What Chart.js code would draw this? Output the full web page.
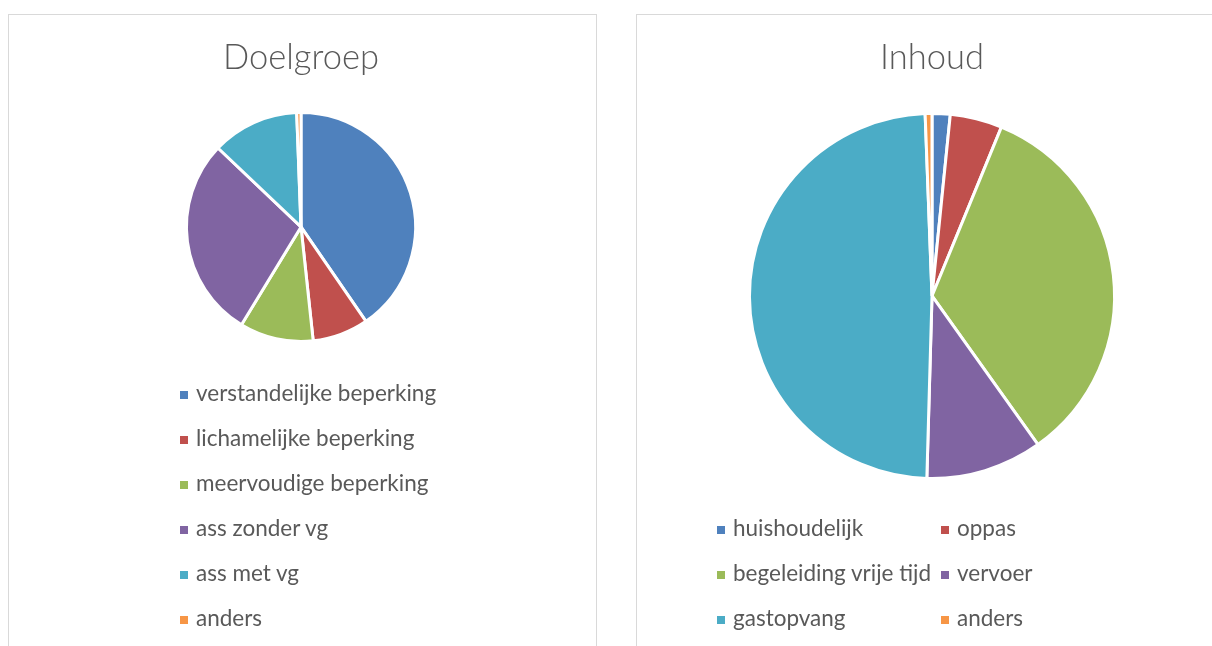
<!DOCTYPE html>
<html>
<head>
<meta charset="utf-8">
<script src="https://cdn.jsdelivr.net/npm/chart.js@4"></script>
<style>
    body { margin: 0; width: 1212px; height: 646px; overflow: hidden; background: #fff; position: relative; }
    .panel { position: absolute; top: 14px; width: 589px; height: 660px; border: 1px solid #d9d9d9; box-sizing: border-box; }
    canvas { position: absolute; top: 14px; }
    .legend { position: absolute; font-family: Lato, sans-serif; font-size: 22.5px; color: #595959; }
    .item { position: absolute; white-space: nowrap; line-height: 24px; }
    .item span { display: inline-block; width: 8px; height: 8px; margin-right: 8px; vertical-align: 2px; }
</style>
</head>
<body>
<div class="panel" style="left:8px"></div>
<div class="panel" style="left:636px"></div>
<canvas id="doelgroep" width="588" height="632" style="left:8px"></canvas>
<canvas id="inhoud" width="588" height="632" style="left:636px"></canvas>
<div class="legend" id="legendLeft"></div>
<div class="legend" id="legendRight"></div>
<script>
// kleuren (Office palet)
const colors = ['#4F81BD', '#C0504D', '#9BBB59', '#8064A2', '#4BACC6', '#F79646'];

// Doelgroep
const doelgroepLabels = ['verstandelijke beperking', 'lichamelijke beperking', 'meervoudige beperking', 'ass zonder vg', 'ass met vg', 'anders'];
const doelgroepValues = [40.4, 7.9, 10.4, 28.4, 12.3, 0.6];

// Inhoud
const inhoudLabels = ['huishoudelijk', 'oppas', 'begeleiding vrije tijd', 'vervoer', 'gastopvang', 'anders'];
const inhoudValues = [1.6, 4.6, 33.9, 10.3, 48.9, 0.6];

function createPieChart(id, title, labels, data, padding, titlePadding) {
    new Chart(document.getElementById(id).getContext('2d'), {
        type: 'pie',
        data: {
            labels: labels,
            datasets: [{
                data: data,
                backgroundColor: colors,
                borderColor: '#ffffff',
                borderWidth: 3
            }]
        },
        options: {
            responsive: false,
            animation: false,
            layout: { padding: padding },
            plugins: {
                legend: { display: false },
                tooltip: { enabled: false },
                title: {
                    display: true,
                    text: title,
                    color: '#595959',
                    font: { family: 'Lato', size: 34.5, weight: 300, lineHeight: 1.2 },
                    padding: titlePadding
                }
            }
        }
    });
}

createPieChart('doelgroep', 'Doelgroep', doelgroepLabels, doelgroepValues,
    { top: 0, left: 0, right: 2, bottom: 303 }, { top: 23, bottom: 32.5 });
createPieChart('inhoud', 'Inhoud', inhoudLabels, inhoudValues,
    { top: 0, left: 4, right: 0, bottom: 166 }, { top: 23, bottom: 33.5 });

// legenda's
function buildLegend(el, labels, positions) {
    labels.forEach((label, i) => {
        const item = document.createElement('div');
        item.className = 'item';
        item.style.left = positions[i][0] + 'px';
        item.style.top = (positions[i][1] - 12) + 'px';
        item.innerHTML = '<span style="background:' + colors[i] + '"></span>';
        item.appendChild(document.createTextNode(label));
        el.appendChild(item);
    });
}

buildLegend(document.getElementById('legendLeft'), doelgroepLabels,
    doelgroepLabels.map((l, i) => [180, 393 + i * 45]));
buildLegend(document.getElementById('legendRight'), inhoudLabels,
    inhoudLabels.map((l, i) => [i % 2 === 0 ? 717 : 941, 528 + Math.floor(i / 2) * 45]));
</script>
</body>
</html>
